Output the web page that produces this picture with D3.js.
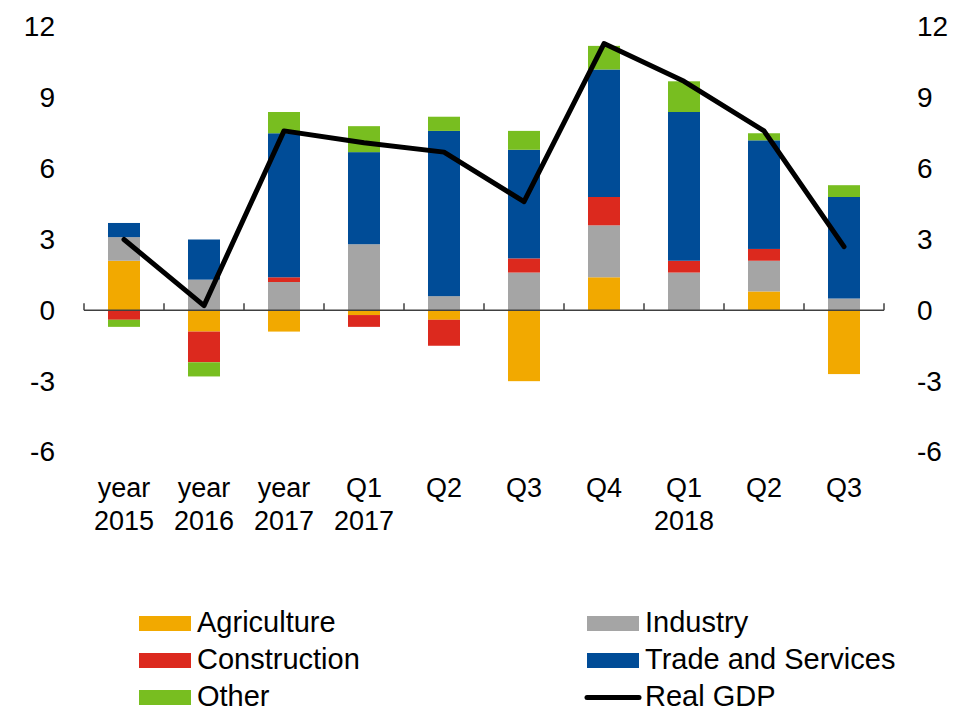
<!DOCTYPE html>
<html>
<head>
<meta charset="utf-8">
<script src="https://cdn.jsdelivr.net/npm/d3@7"></script>
<style>
  body { margin: 0; background: #fff; }
  text { font-family: "Liberation Sans", Arial, sans-serif; fill: #000; }
</style>
</head>
<body>
<svg id="chart"></svg>
<script>
const labelTop = ["year", "year", "year", "Q1", "Q2", "Q3", "Q4", "Q1", "Q2", "Q3"];
const labelBottom = ["2015", "2016", "2017", "2017", "", "", "", "2018", "", ""];

const agriculture = [2.1, -0.9, -0.9, -0.2, -0.4, -3.0, 1.4, 0, 0.8, -2.7];
const industry = [1.0, 1.3, 1.2, 2.8, 0.6, 1.6, 2.2, 1.6, 1.3, 0.5];
const construction = [-0.4, -1.3, 0.2, -0.5, -1.1, 0.6, 1.2, 0.5, 0.5, 0];
const trade = [0.6, 1.7, 6.1, 3.9, 7.0, 4.6, 5.4, 6.3, 4.6, 4.3];
const other = [-0.3, -0.6, 0.9, 1.1, 0.6, 0.8, 1.0, 1.3, 0.3, 0.5];
const realGdp = [3.0, 0.2, 7.6, 7.1, 6.7, 4.6, 11.3, 9.7, 7.6, 2.7];

const seriesNames = ["Agriculture", "Industry", "Construction", "Trade and Services", "Other"];
const seriesColors = ["#f2a900", "#a5a5a5", "#dc291e", "#004c97", "#78be20"];
const yTicks = [-6, -3, 0, 3, 6, 9, 12];

const width = 964;
const height = 711;

const svg = d3.select("#chart").attr("width", width).attr("height", height);

// one row per category, used by d3.stack
const rows = labelTop.map((d, i) => ({
  idx: i,
  "Agriculture": agriculture[i],
  "Industry": industry[i],
  "Construction": construction[i],
  "Trade and Services": trade[i],
  "Other": other[i],
}));

const x = d3.scaleBand()
  .domain(d3.range(labelTop.length))
  .range([84, 884])
  .paddingInner(0.6)
  .paddingOuter(0.3);

const y = d3.scaleLinear().domain([-6, 12]).range([452, 27]);

const color = d3.scaleOrdinal().domain(seriesNames).range(seriesColors);

const stacked = d3.stack()
  .keys(seriesNames)
  .offset(d3.stackOffsetDiverging)(rows);

// bars
svg.append("g")
  .selectAll("g")
  .data(stacked)
  .join("g")
  .attr("fill", (d) => color(d.key))
  .selectAll("rect")
  .data((d) => d)
  .join("rect")
  .attr("x", (d) => x(d.data.idx))
  .attr("width", x.bandwidth())
  .attr("y", (d) => y(Math.max(d[0], d[1])))
  .attr("height", (d) => Math.abs(y(d[0]) - y(d[1])));

// zero line with small ticks between categories
const axisG = svg.append("g").attr("stroke", "#404040").attr("stroke-width", 1.5);
axisG.append("line")
  .attr("x1", x.range()[0]).attr("x2", x.range()[1])
  .attr("y1", y(0)).attr("y2", y(0));
axisG.selectAll(".sep")
  .data(d3.range(labelTop.length + 1))
  .join("line")
  .attr("class", "sep")
  .attr("x1", (i) => x.range()[0] + i * x.step())
  .attr("x2", (i) => x.range()[0] + i * x.step())
  .attr("y1", y(0))
  .attr("y2", y(0) - 7);

// left and right value axes (plain hyphen for negatives, like the original)
const fmt = (d) => String(d);
const leftAxis = svg.append("g")
  .attr("transform", "translate(84,0)")
  .call(d3.axisLeft(y).tickValues(yTicks).tickFormat(fmt).tickSize(0).tickPadding(29));
const rightAxis = svg.append("g")
  .attr("transform", "translate(884,0)")
  .call(d3.axisRight(y).tickValues(yTicks).tickFormat(fmt).tickSize(0).tickPadding(33));
[leftAxis, rightAxis].forEach((g) => {
  g.select(".domain").remove();
  g.selectAll("text")
    .style("font-size", "28px")
    .style("font-family", "Liberation Sans, Arial, sans-serif")
    .attr("fill", "#000");
});

// Real GDP line
const line = d3.line()
  .x((d, i) => x(i) + x.bandwidth() / 2)
  .y((d) => y(d));

svg.append("path")
  .datum(realGdp)
  .attr("d", line)
  .attr("fill", "none")
  .attr("stroke", "#000")
  .attr("stroke-width", 5)
  .attr("stroke-linejoin", "round")
  .attr("stroke-linecap", "round");

// category labels
const catLabels = svg.append("g")
  .selectAll("text")
  .data(labelTop)
  .join("text")
  .attr("text-anchor", "middle")
  .style("font-size", "27px");
catLabels.append("tspan")
  .attr("x", (d, i) => x(i) + x.bandwidth() / 2)
  .attr("y", 497)
  .text((d) => d);
catLabels.append("tspan")
  .attr("x", (d, i) => x(i) + x.bandwidth() / 2)
  .attr("y", 530)
  .text((d, i) => labelBottom[i]);

// legend
const legendItems = [
  { name: "Agriculture", col: 0, row: 0 },
  { name: "Industry", col: 1, row: 0 },
  { name: "Construction", col: 0, row: 1 },
  { name: "Trade and Services", col: 1, row: 1 },
  { name: "Other", col: 0, row: 2 },
  { name: "Real GDP", col: 1, row: 2 },
];
const legend = svg.append("g")
  .selectAll("g")
  .data(legendItems)
  .join("g")
  .attr("transform", (d) => `translate(${d.col ? 587 : 139}, ${616 + d.row * 37})`);

legend.each(function (d) {
  const g = d3.select(this);
  if (d.name === "Real GDP") {
    g.append("line")
      .attr("x1", 0).attr("x2", 52)
      .attr("y1", 7.5).attr("y2", 7.5)
      .attr("stroke", "#000")
      .attr("stroke-width", 5)
      .attr("stroke-linecap", "round");
  } else {
    g.append("rect")
      .attr("width", 52)
      .attr("height", 15)
      .attr("fill", color(d.name));
  }
  g.append("text")
    .attr("x", 58)
    .attr("y", 16)
    .style("font-size", "29px")
    .text(d.name);
});
</script>
</body>
</html>
